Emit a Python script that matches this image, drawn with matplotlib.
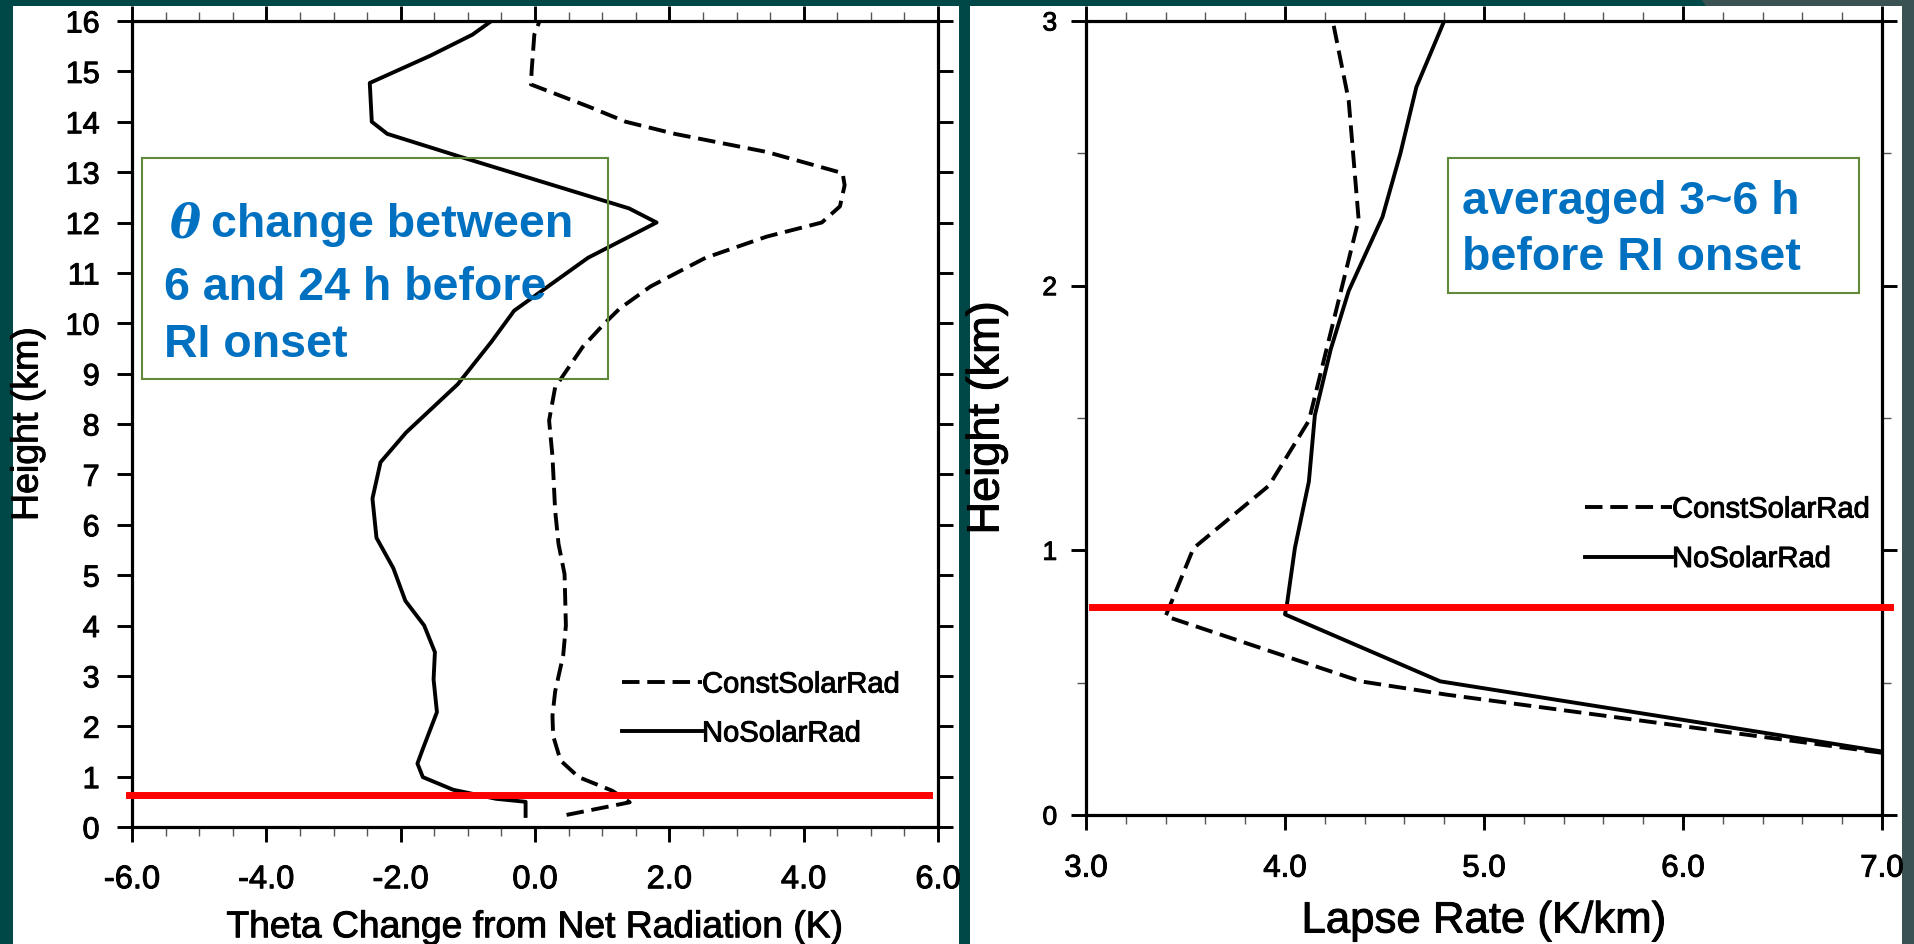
import matplotlib
matplotlib.use('Agg')
import matplotlib.pyplot as plt
import matplotlib.patheffects as pe
from matplotlib.patches import Rectangle, Polygon
from matplotlib.lines import Line2D
from matplotlib.ticker import MultipleLocator, FormatStrFormatter

plt.rcParams['font.family'] = ['Liberation Sans', 'DejaVu Sans']

W, H = 1914, 945

# theta change from net radiation (K) vs height (km)
theta_nosolar = [-0.14, -0.14, -0.58, -1.22, -1.67, -1.75, -1.67, -1.46, -1.51, -1.49,
                 -1.65, -1.93, -2.11, -2.36, -2.42, -2.30, -1.92, -1.15, -0.65, -0.31,
                 0.79, 1.81, 1.40, -1.10, -2.20, -2.43, -2.46, -1.56, -0.93, -0.68]
height_nosolar = [0.22, 0.50, 0.56, 0.74, 0.99, 1.26, 1.55, 2.28, 2.93, 3.47,
                  4.00, 4.49, 5.14, 5.74, 6.52, 7.24, 7.83, 8.79, 9.63, 10.25,
                  11.30, 12.00, 12.28, 13.30, 13.76, 14.00, 14.77, 15.31, 15.73, 15.97]
theta_const = [0.47, 1.41, 1.15, 0.65, 0.38, 0.27, 0.26, 0.30, 0.42, 0.46,
               0.44, 0.35, 0.30, 0.26, 0.21, 0.30, 0.71, 1.03, 1.26, 1.72,
               2.54, 3.45, 4.27, 4.54, 4.61, 4.58, 3.45, 2.08, 1.35, 0.80,
               -0.06, -0.05, -0.01, 0.06]
height_const = [0.24, 0.49, 0.72, 0.99, 1.32, 1.81, 2.21, 2.69, 3.41, 4.00,
                5.02, 5.62, 6.28, 7.36, 8.07, 8.73, 9.53, 9.99, 10.29, 10.73,
                11.30, 11.72, 12.00, 12.32, 12.74, 12.98, 13.40, 13.76, 14.00, 14.30,
                14.74, 15.01, 15.73, 15.97]

# lapse rate (K/km) vs height (km), averaged 3~6 h before RI onset
lapse_nosolar = [7.00, 4.78, 4.00, 4.01, 4.05, 4.12, 4.15, 4.23, 4.32, 4.49, 4.58, 4.66, 4.80]
lheight_nosolar = [0.24, 0.505, 0.758, 0.797, 1.01, 1.26, 1.51, 1.76, 1.98, 2.26, 2.50, 2.75, 3.00]
lapse_const = [7.00, 4.81, 4.38, 3.40, 3.54, 3.92, 4.12, 4.37, 4.32, 4.24]
lheight_const = [0.235, 0.455, 0.505, 0.751, 1.008, 1.245, 1.49, 2.25, 2.70, 3.00]

# RI onset marker heights (km) and their x extents
ri_left, ri_left_span = 0.63, (-6.05, 5.86)
ri_right, ri_right_span = 0.785, (3.03, 7.04)

labels = ['ConstSolarRad', 'NoSolarRad']
box_blue = '#0070C0'
box_green = '#5E8A3A'
dash = (0, (4.5, 2))
heavy = [pe.withStroke(linewidth=0.7, foreground='k')]


def fx(x):
    return x / W


def fy(y):
    return 1 - y / H


fig = plt.figure(figsize=(W / 100, H / 100), dpi=100, facecolor='#004848')

# slide background pieces
fig.add_artist(Polygon([[fx(1701), fy(0)], [fx(W), fy(0)], [fx(W), fy(H)], [fx(1902), fy(H)],
                        [fx(1902), fy(7)], [fx(1706), fy(7)]], closed=True,
                       transform=fig.transFigure, facecolor='#3A5252', edgecolor='none', zorder=-2))
for x0, x1 in [(13, 959), (970, 1902)]:
    fig.add_artist(Rectangle((fx(x0), 0), fx(x1) - fx(x0), fy(7), transform=fig.transFigure,
                             facecolor='white', edgecolor='none', zorder=-1))

ax1 = fig.add_axes([fx(132), fy(828), (938 - 132) / W, (828 - 22) / H])
ax2 = fig.add_axes([fx(1086), fy(816), (1882 - 1086) / W, (816 - 22) / H])

for ax in (ax1, ax2):
    ax.set_facecolor('white')
    for s in ax.spines.values():
        s.set_linewidth(2.3)
    ax.tick_params(which='both', direction='out', top=True, right=True)
    ax.tick_params(which='major', length=10.8, width=2.1)
    ax.tick_params(which='minor', length=6.5, width=1.0, color='#555555')

# left panel
ax1.plot(theta_const, height_const, color='k', ls=dash, lw=2.8)
ax1.plot(theta_nosolar, height_nosolar, color='k', lw=2.8)
ax1.plot(ri_left_span, [ri_left, ri_left], color='#FF0000', lw=5, clip_on=False, zorder=5)
ax1.set_xlim(-6, 6)
ax1.set_ylim(0, 16)
ax1.xaxis.set_major_locator(MultipleLocator(2))
ax1.xaxis.set_minor_locator(MultipleLocator(0.5))
ax1.xaxis.set_major_formatter(FormatStrFormatter('%.1f'))
ax1.yaxis.set_major_locator(MultipleLocator(1))
ax1.tick_params(axis='x', labelsize=23.5, pad=16)
ax1.tick_params(axis='y', labelsize=22, pad=12.5)
ax1.set_xlabel('Theta Change from Net Radiation (K)', fontsize=26.8, va='center')
ax1.xaxis.set_label_coords(0.5, -0.125)
ax1.set_ylabel('Height (km)', fontsize=27, va='center')
ax1.yaxis.set_label_coords(-0.1297, 0.5)

# right panel
ax2.plot(lapse_const, lheight_const, color='k', ls=dash, lw=2.8)
ax2.plot(lapse_nosolar, lheight_nosolar, color='k', lw=2.8)
ax2.plot(ri_right_span, [ri_right, ri_right], color='#FF0000', lw=5, clip_on=False, zorder=5)
ax2.set_xlim(3, 7)
ax2.set_ylim(0, 3)
ax2.xaxis.set_major_locator(MultipleLocator(1))
ax2.xaxis.set_minor_locator(MultipleLocator(0.2))
ax2.xaxis.set_major_formatter(FormatStrFormatter('%.1f'))
ax2.yaxis.set_major_locator(MultipleLocator(1))
ax2.yaxis.set_minor_locator(MultipleLocator(0.5))
ax2.tick_params(axis='x', labelsize=22.5, pad=17)
ax2.tick_params(axis='y', labelsize=19, pad=10)
ax2.set_xlabel('Lapse Rate (K/km)', fontsize=31.5, va='center')
ax2.xaxis.set_label_coords(0.5, -0.1335)
ax2.set_ylabel('Height (km)', fontsize=32.5, va='center')
ax2.yaxis.set_label_coords(-0.1244, 0.5)

for ax in (ax1, ax2):
    for t in ax.get_xticklabels() + ax.get_yticklabels() + [ax.xaxis.label, ax.yaxis.label]:
        t.set_path_effects(heavy)


# legends drawn as line + label, NCL style
def legend(x0, x1, ys):
    for y, ls, lab in zip(ys, [dash, '-'], labels):
        fig.add_artist(Line2D([fx(x0), fx(x1)], [fy(y), fy(y)], transform=fig.transFigure,
                              color='k', lw=2.8, ls=ls, zorder=6))
        fig.text(fx(x1), fy(y + 10.5), lab, fontsize=21, va='baseline', ha='left', zorder=6,
                 path_effects=heavy)


legend(621.5, 702, [683, 732])
legend(1585, 1672, [508, 557.5])

# annotation boxes
for x0, y0, x1, y1 in [(141.5, 158.5, 608, 380), (1448, 158.5, 1859, 294)]:
    fig.add_artist(Rectangle((fx(x0), fy(y1)), fx(x1) - fx(x0), fy(y0) - fy(y1),
                             transform=fig.transFigure, facecolor='none',
                             edgecolor=box_green, lw=1.5, zorder=6))

bold = dict(fontsize=33.5, fontweight='bold', color=box_blue, va='baseline', ha='left', zorder=7)
fig.text(fx(170), fy(237), '\u03b8', family=['DejaVu Serif'], fontstyle='italic', **bold)
fig.text(fx(211), fy(237), 'change between', **bold)
fig.text(fx(164), fy(299.6), '6 and 24 h before', **bold)
fig.text(fx(164), fy(357), 'RI onset', **bold)
fig.text(fx(1462), fy(214), 'averaged 3~6 h', **bold)
fig.text(fx(1462), fy(269.5), 'before RI onset', **bold)

fig.savefig('out.png', dpi=100, facecolor=fig.get_facecolor())
